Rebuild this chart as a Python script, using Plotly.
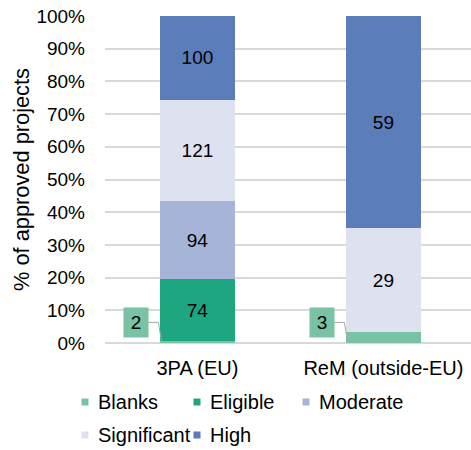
import plotly.graph_objects as go

categories = ["3PA (EU)", "ReM (outside-EU)"]
series_names = ["Blanks", "Eligible", "Moderate", "Significant", "High"]
blanks = [2, 3]
eligible = [74, 0]
moderate = [94, 0]
significant = [121, 29]
high = [100, 59]
colors = ["#79C3A4", "#1EA680", "#A6B4D8", "#DDE1F0", "#5B7DBA"]
y_ticks = list(range(0, 101, 10))
y_tick_labels = [f"{t}%" for t in y_ticks]

series = [blanks, eligible, moderate, significant, high]
totals = [sum(s[i] for s in series) for i in range(len(categories))]
xpos = list(range(len(categories)))
BAR_W = 0.405
FONT = "Liberation Sans, Arial, sans-serif"
W, H = 471, 450
ML, MT, MB = 105, 16, 107
PW, PH = W - ML, H - MT - MB

def px2paper(px, py):
    """page pixel -> paper coordinates"""
    return (px - ML) / PW, (H - MB - py) / PH

fig = go.Figure()
for k, (name, vals, col) in enumerate(zip(series_names, series, colors)):
    if name == "Blanks":
        txt = ["" for v in vals]
    else:
        txt = [str(v) if v else "" for v in vals]
    fig.add_trace(go.Bar(
        x=xpos, y=vals, name=name, marker=dict(color=col, line=dict(width=0)),
        width=BAR_W, text=txt, textposition="inside", insidetextanchor="middle",
        textangle=0, textfont=dict(color="black", size=19, family=FONT),
        constraintext="none", showlegend=False,
    ))

# Blanks call-out labels with leader lines
for i, v in enumerate(blanks):
    pct = v / totals[i] * 100
    bx = xpos[i] - 0.33
    by = 6.3
    right_edge = bx + 12 / 186
    fig.add_trace(go.Scatter(
        x=[right_edge, xpos[i] - 0.21, xpos[i] - BAR_W / 2 + 0.01],
        y=[by, by, min(pct, 0.6) / 2],
        mode="lines", line=dict(color="#A6A6A6", width=1),
        showlegend=False, hoverinfo="skip",
    ))
    fig.add_annotation(
        x=bx, y=by, xref="x", yref="y", text=str(v), showarrow=False,
        bgcolor=colors[0], width=24, height=29, borderpad=0,
        font=dict(color="black", size=19, family=FONT),
    )

# Legend (Excel-style, compact keys)
legend_text_x = [96, 208, 317, 96, 208]
legend_row_y = [402, 402, 402, 435, 435]
KEY = 7
for name, col, tx, ty in zip(series_names, colors, legend_text_x, legend_row_y):
    cx = tx - 11
    x0, y0 = px2paper(cx - KEY / 2, ty + KEY / 2)
    x1, y1 = px2paper(cx + KEY / 2, ty - KEY / 2)
    fig.add_shape(type="rect", xref="paper", yref="paper", x0=x0, x1=x1, y0=y0, y1=y1,
                  fillcolor=col, line=dict(width=0), layer="above")
    ax_, ay_ = px2paper(tx, ty)
    fig.add_annotation(x=ax_, y=ay_, xref="paper", yref="paper", text=name,
                       showarrow=False, xanchor="left", yanchor="middle",
                       font=dict(color="black", size=20, family=FONT))

fig.update_layout(
    barmode="stack", barnorm="percent",
    width=W, height=H,
    margin=dict(l=ML, r=0, t=MT, b=MB),
    paper_bgcolor="white", plot_bgcolor="white",
    font=dict(family=FONT, size=19, color="black"),
    showlegend=False, hovermode=False,
    xaxis=dict(
        tickmode="array", tickvals=xpos, ticktext=categories,
        range=[-0.497, 1.471], showgrid=False, zeroline=False, showline=False,
        ticks="", tickfont=dict(size=20), ticklabelstandoff=11,
        ticklabeloverflow="allow",
    ),
    yaxis=dict(
        range=[0, 100], tickmode="array", tickvals=y_ticks, ticktext=y_tick_labels,
        showgrid=True, gridcolor="#D9D9D9", gridwidth=1.5,
        zeroline=True, zerolinecolor="#D9D9D9", zerolinewidth=1.5,
        showline=False, ticks="", tickfont=dict(size=19),
        ticklabelstandoff=19, ticklabeloverflow="allow",
        title=dict(text="% of approved projects", font=dict(size=21.8), standoff=0),
        automargin=False,
    ),
)

fig.write_html("out.html", config={"displayModeBar": False},
               post_script="document.body.style.margin='0px';")
